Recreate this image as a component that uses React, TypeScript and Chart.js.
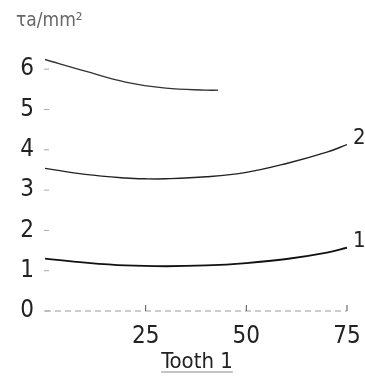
import React, { useEffect, useRef } from "react";
import { Chart, registerables } from "chart.js";

Chart.register(...registerables);

const xTicks = [25, 50, 75];
const yTicks = [0, 1, 2, 3, 4, 5, 6];
const curve1X = [0, 10, 20, 30, 40, 50, 60, 70, 75];
const curve1Y = [1.3, 1.2, 1.13, 1.11, 1.13, 1.19, 1.29, 1.45, 1.57];
const curve2X = [0, 10, 20, 25, 30, 40, 50, 60, 70, 75];
const curve2Y = [3.54, 3.39, 3.3, 3.28, 3.28, 3.33, 3.44, 3.66, 3.94, 4.13];
const curve3X = [0, 10, 20, 30, 40, 43];
const curve3Y = [6.24, 5.95, 5.68, 5.53, 5.48, 5.48];
const curveLabels = ["1", "2", ""];
const yTitle = "τa/mm²";
const xTitle = "Tooth 1";

const FONT = "'Liberation Sans Narrow', 'DejaVu Sans Condensed', sans-serif";

const decor = {
  id: "decor",
  afterDraw(chart: any) {
    const ctx = chart.ctx;
    const xs = chart.scales.x;
    const ys = chart.scales.y;
    const area = chart.chartArea;
    ctx.save();
    ctx.strokeStyle = "#9a9a9a";
    ctx.lineWidth = 1;
    ctx.setLineDash([6, 4]);
    ctx.beginPath();
    ctx.moveTo(area.left, ys.getPixelForValue(0));
    ctx.lineTo(area.right, ys.getPixelForValue(0));
    ctx.stroke();
    ctx.setLineDash([]);
    ctx.strokeStyle = "#555";
    xTicks.forEach((v) => {
      const px = xs.getPixelForValue(v);
      ctx.beginPath();
      ctx.moveTo(px, ys.getPixelForValue(0));
      ctx.lineTo(px, ys.getPixelForValue(0) - 6);
      ctx.stroke();
    });
    ctx.strokeStyle = "#aaa";
    yTicks.forEach((v) => {
      const py = ys.getPixelForValue(v);
      ctx.beginPath();
      ctx.moveTo(area.left - 1, py);
      ctx.lineTo(area.left + 4, py);
      ctx.stroke();
    });
    ctx.fillStyle = "#222";
    ctx.font = "22px " + FONT;
    ctx.textAlign = "left";
    ctx.textBaseline = "middle";
    chart.data.datasets.forEach((ds: any, i: number) => {
      const meta = chart.getDatasetMeta(i);
      const last = meta.data[meta.data.length - 1];
      if (curveLabels[i]) ctx.fillText(curveLabels[i], last.x + 6, last.y - 6);
    });
    ctx.font = "22px " + FONT;
    ctx.textAlign = "center";
    ctx.textBaseline = "alphabetic";
    const cx = (area.left + area.right) / 2 + 1;
    const ty = 368;
    ctx.fillText(xTitle, cx, ty);
    const w = ctx.measureText(xTitle).width;
    ctx.strokeStyle = "#888";
    ctx.lineWidth = 1;
    ctx.beginPath();
    ctx.moveTo(cx - w / 2, ty + 4);
    ctx.lineTo(cx + w / 2, ty + 4);
    ctx.stroke();
    ctx.fillStyle = "#666";
    ctx.font = "19px " + FONT;
    ctx.textAlign = "left";
    ctx.fillText(yTitle, 16, 26);
    ctx.restore();
  },
};

export default function App() {
  const ref = useRef<HTMLCanvasElement>(null);
  useEffect(() => {
    if (!ref.current) return;
    const mk = (xsArr: number[], ysArr: number[]) => xsArr.map((x, i) => ({ x, y: ysArr[i] }));
    const chart = new Chart(ref.current, {
      type: "line",
      data: {
        datasets: [
          { data: mk(curve1X, curve1Y), borderColor: "#111", borderWidth: 1.8, pointRadius: 0, tension: 0.4, fill: false },
          { data: mk(curve2X, curve2Y), borderColor: "#222", borderWidth: 1.4, pointRadius: 0, tension: 0.4, fill: false },
          { data: mk(curve3X, curve3Y), borderColor: "#333", borderWidth: 1.4, pointRadius: 0, tension: 0.4, fill: false },
        ],
      },
      options: {
        animation: false,
        responsive: false,
        layout: { padding: { top: 45, right: 18, bottom: 0, left: 0 } },
        plugins: { legend: { display: false }, tooltip: { enabled: false } },
        scales: {
          x: {
            type: "linear",
            min: 0,
            max: 75,
            border: { display: false },
            grid: { display: false },
            afterBuildTicks: (s: any) => { s.ticks = xTicks.map((v) => ({ value: v })); },
            afterFit: (s: any) => { s.height = 73; },
            ticks: { color: "#222", font: { family: FONT, size: 24 }, padding: 3, maxRotation: 0 },
          },
          y: {
            type: "linear",
            min: 0,
            max: 6.6,
            border: { display: false },
            grid: { display: false },
            afterBuildTicks: (s: any) => { s.ticks = yTicks.map((v) => ({ value: v })); },
            afterFit: (s: any) => { s.width = 45; },
            ticks: { color: "#222", font: { family: FONT, size: 24 }, padding: 3 },
          },
        },
      },
      plugins: [decor],
    });
    return () => chart.destroy();
  }, []);
  return (
    <div style={{ position: "fixed", left: 0, top: 0, width: 365, height: 384, background: "#fff" }}>
      <canvas ref={ref} width={365} height={384} />
    </div>
  );
}
